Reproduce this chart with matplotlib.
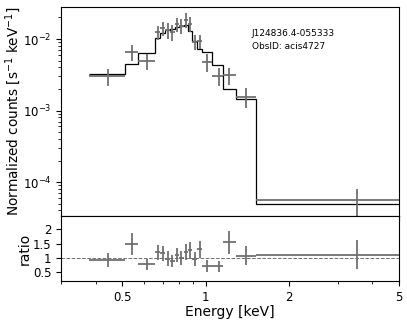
import numpy as np
import matplotlib
matplotlib.use('Agg')
import matplotlib.pyplot as plt
from matplotlib.ticker import FixedLocator, FixedFormatter, NullFormatter

# spectral bins (keV)
e_mid = [0.444, 0.54, 0.614, 0.672, 0.70, 0.73, 0.756, 0.788, 0.817, 0.852,
         0.878, 0.914, 0.953, 1.012, 1.114, 1.22, 1.40, 3.52]
e_lo = [0.38, 0.51, 0.57, 0.658, 0.686, 0.715, 0.743, 0.772, 0.802, 0.834,
        0.865, 0.896, 0.933, 0.97, 1.054, 1.16, 1.29, 1.52]
e_hi = [0.51, 0.57, 0.658, 0.686, 0.715, 0.743, 0.772, 0.802, 0.834, 0.865,
        0.896, 0.933, 0.97, 1.054, 1.16, 1.29, 1.52, 8.15]

# folded model per bin [counts/s/keV]
model = [3.25e-3, 4.45e-3, 6.3e-3, 0.0105, 0.0122, 0.0135, 0.014, 0.0147, 0.0153,
         0.0156, 0.0128, 0.0094, 0.0072, 0.0066, 0.0043, 0.0020, 0.00145, 5.0e-5]

# data / model ratio and its error
ratio = [0.93, 1.5, 0.78, 1.2, 1.16, 0.98, 0.9, 1.1, 1.0, 1.2,
         1.27, 0.98, 1.3, 0.73, 0.71, 1.55, 1.08, 1.12]
ratio_err = [0.25, 0.38, 0.19, 0.27, 0.26, 0.25, 0.22, 0.25, 0.24, 0.28,
             0.30, 0.24, 0.30, 0.20, 0.20, 0.40, 0.33, 0.50]

e_mid = np.array(e_mid)
e_lo = np.array(e_lo)
e_hi = np.array(e_hi)
model = np.array(model)
ratio = np.array(ratio)
ratio_err = np.array(ratio_err)

counts = ratio * model
counts_err = ratio_err * model
xerr = [e_mid - e_lo, e_hi - e_mid]

fig = plt.figure(figsize=(4.07, 3.2), dpi=100)
ax1 = fig.add_axes([0.15, 0.325, 0.83, 0.653])
ax2 = fig.add_axes([0.15, 0.122, 0.83, 0.203], sharex=ax1)

grey = '#6f6f6f'

# top panel: data + model
ax1.errorbar(e_mid, counts, xerr=xerr, yerr=counts_err, fmt='none',
             ecolor=grey, elinewidth=1.3, capsize=0)
edges = np.append(e_lo, e_hi[-1])
ax1.stairs(model, edges, color='black', lw=0.9, baseline=None)
ax1.set_xscale('log')
ax1.set_yscale('log')
ax1.set_ylim(3.35e-5, 2.8e-2)
ax1.set_ylabel(r'Normalized counts [s$^{-1}$ keV$^{-1}$]', fontsize=9.8, labelpad=0)
ax1.tick_params(labelbottom=False, labelsize=8.5)
ax1.text(0.565, 0.895, 'J124836.4-055333\nObsID: acis4727', transform=ax1.transAxes,
         fontsize=6.5, va='top', linespacing=1.55)

# bottom panel: ratio
ax2.errorbar(e_mid, ratio, xerr=xerr, yerr=ratio_err, fmt='none',
             ecolor=grey, elinewidth=1.3, capsize=0)
ax2.axhline(1.0, color=grey, lw=0.7, ls='--')
ax2.set_ylim(0.2, 2.47)
ax2.set_yticks([0.5, 1, 1.5, 2])
ax2.set_yticklabels(['0.5', '1', '1.5', '2'])
ax2.set_ylabel('ratio', fontsize=10, labelpad=1)
ax2.set_xlabel('Energy [keV]', fontsize=10, labelpad=1)
ax2.tick_params(labelsize=8.5)

ax2.set_xlim(0.3, 5)
ax2.xaxis.set_major_locator(FixedLocator([0.5, 1, 2, 5]))
ax2.xaxis.set_major_formatter(FixedFormatter(['0.5', '1', '2', '5']))
ax2.xaxis.set_minor_formatter(NullFormatter())

fig.savefig('out.png', dpi=100)
